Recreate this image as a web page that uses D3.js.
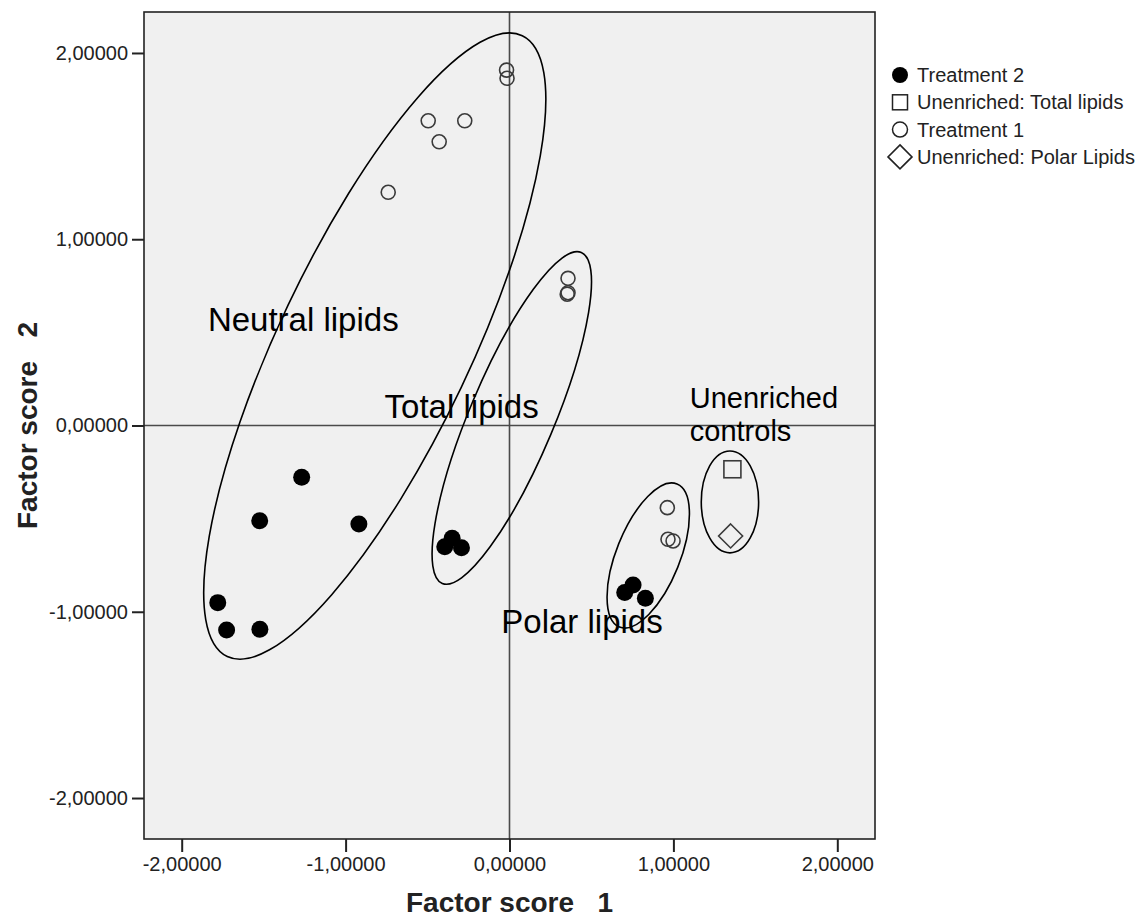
<!DOCTYPE html>
<html>
<head>
<meta charset="utf-8">
<script src="https://cdn.jsdelivr.net/npm/d3@7"></script>
<style>
  body { margin: 0; background: #fff; }
  text { font-family: "Liberation Sans", Arial, sans-serif; }
</style>
</head>
<body>
<svg id="chart" width="1144" height="920"></svg>
<script>
// factor scores
var treatment2 = [
  [-1.268, -0.278], [-1.524, -0.511], [-0.919, -0.529], [-1.780, -0.951],
  [-1.726, -1.098], [-1.523, -1.094], [-0.350, -0.606], [-0.395, -0.651],
  [-0.293, -0.656], [0.754, -0.856], [0.703, -0.897], [0.829, -0.928]
];
var treatment1 = [
  [-0.018, 1.908], [-0.015, 1.864], [-0.496, 1.636], [-0.273, 1.636],
  [-0.429, 1.523], [-0.740, 1.252], [0.357, 0.790], [0.357, 0.713],
  [0.352, 0.705], [0.963, -0.441], [0.967, -0.611], [0.998, -0.620]
];
var unenrichedTotal = [[1.360, -0.235]];
var unenrichedPolar = [[1.349, -0.593]];

var ticks = [-2, -1, 0, 1, 2];
var legendNames = ["Treatment 2", "Unenriched: Total lipids", "Treatment 1", "Unenriched: Polar Lipids"];
var legendShapes = ["dot", "square", "circle", "diamond"];

// group ellipses: major axis end points (data units) and minor/major ratio
var groups = [
  { name: "Neutral lipids", x1: 0.078, y1: 2.093, x2: -1.722, y2: -1.240, ratio: 0.279, lx: -1.84, ly: 0.505, size: 33 },
  { name: "Total lipids", x1: 0.438, y1: 0.929, x2: -0.410, y2: -0.848, ratio: 0.236, lx: -0.762, ly: 0.04, size: 33 },
  { name: "Polar lipids", x1: 1.022, y1: -0.314, x2: 0.671, y2: -1.082, ratio: 0.412, lx: -0.05, ly: -1.113, size: 33 },
  { name: "Unenriched|controls", x1: 1.345, y1: -0.137, x2: 1.345, y2: -0.684, ratio: 0.563, lx: 1.10, ly: 0.095, size: 29 }
];

var svg = d3.select("#chart");
var plotL = 144, plotR = 875, plotT = 12, plotB = 839;

var x = d3.scaleLinear().domain([-2.23, 2.23]).range([plotL, plotR]);
var y = d3.scaleLinear().domain([-2.22, 2.22]).range([plotB, plotT]);

var loc = d3.formatLocale({ decimal: ",", thousands: ".", grouping: [3], currency: ["", ""], minus: "-" });
var fmt = loc.format(".5f");

// plot background
svg.append("rect")
  .attr("x", plotL).attr("y", plotT)
  .attr("width", plotR - plotL).attr("height", plotB - plotT)
  .attr("fill", "#f0f0f0");

// zero reference lines
svg.append("line")
  .attr("x1", x(0)).attr("x2", x(0)).attr("y1", plotT).attr("y2", plotB)
  .attr("stroke", "#4a4a4a").attr("stroke-width", 1.6);
svg.append("line")
  .attr("x1", plotL).attr("x2", plotR).attr("y1", y(0)).attr("y2", y(0))
  .attr("stroke", "#4a4a4a").attr("stroke-width", 1.6);

// axes
var xAxis = svg.append("g")
  .attr("transform", "translate(0," + plotB + ")")
  .call(d3.axisBottom(x).tickValues(ticks).tickSize(13).tickPadding(5).tickFormat(fmt));
var yAxis = svg.append("g")
  .attr("transform", "translate(" + plotL + ",0)")
  .call(d3.axisLeft(y).tickValues(ticks).tickSize(12).tickPadding(4).tickFormat(fmt));

[xAxis, yAxis].forEach(function(a) {
  a.select(".domain").remove();
  a.selectAll(".tick line").attr("stroke", "#222").attr("stroke-width", 2);
  a.selectAll(".tick text")
    .attr("fill", "#222")
    .style("font-size", "20px")
    .style("font-family", "'Liberation Sans', Arial, sans-serif");
});

// frame
svg.append("rect")
  .attr("x", plotL).attr("y", plotT)
  .attr("width", plotR - plotL).attr("height", plotB - plotT)
  .attr("fill", "none").attr("stroke", "#222").attr("stroke-width", 1.6);

// axis titles
svg.append("text")
  .attr("x", (plotL + plotR) / 2).attr("y", 912)
  .attr("text-anchor", "middle")
  .style("font-size", "28px").style("font-weight", "bold")
  .style("white-space", "pre")
  .attr("fill", "#222")
  .text("Factor score   1");

svg.append("text")
  .attr("transform", "translate(37," + ((plotT + plotB) / 2) + ") rotate(-90)")
  .attr("text-anchor", "middle")
  .style("font-size", "28px").style("font-weight", "bold")
  .style("white-space", "pre")
  .attr("fill", "#222")
  .text("Factor score   2");

// ellipses around groups
svg.append("g")
  .selectAll("ellipse")
  .data(groups)
  .enter()
  .append("ellipse")
    .each(function(d) {
      var px1 = x(d.x1), py1 = y(d.y1), px2 = x(d.x2), py2 = y(d.y2);
      var cx = (px1 + px2) / 2, cy = (py1 + py2) / 2;
      var a = Math.hypot(px1 - px2, py1 - py2) / 2;
      var ang = Math.atan2(py1 - py2, px1 - px2) * 180 / Math.PI;
      d3.select(this)
        .attr("cx", 0).attr("cy", 0)
        .attr("rx", a).attr("ry", a * d.ratio)
        .attr("transform", "translate(" + cx + "," + cy + ") rotate(" + ang + ")");
    })
    .attr("fill", "none")
    .attr("stroke", "#000")
    .attr("stroke-width", 1.6);

// group labels
svg.append("g")
  .selectAll("text")
  .data(groups)
  .enter()
  .append("text")
    .attr("x", function(d) { return x(d.lx); })
    .attr("y", function(d) { return y(d.ly); })
    .style("font-size", function(d) { return d.size + "px"; })
    .attr("fill", "#000")
    .each(function(d) {
      var parts = d.name.split("|");
      var t = d3.select(this);
      parts.forEach(function(p, i) {
        t.append("tspan")
          .attr("x", x(d.lx))
          .attr("dy", i === 0 ? 0 : 33)
          .text(p);
      });
    });

// points
var pts = svg.append("g");

pts.selectAll(".dot-t1")
  .data(treatment1)
  .enter()
  .append("circle")
    .attr("class", "dot-t1")
    .attr("cx", function(d) { return x(d[0]); })
    .attr("cy", function(d) { return y(d[1]); })
    .attr("r", 7)
    .attr("fill", "none")
    .attr("stroke", "#3a3a3a")
    .attr("stroke-width", 1.6);

pts.selectAll(".dot-t2")
  .data(treatment2)
  .enter()
  .append("circle")
    .attr("class", "dot-t2")
    .attr("cx", function(d) { return x(d[0]); })
    .attr("cy", function(d) { return y(d[1]); })
    .attr("r", 8.5)
    .attr("fill", "#000");

pts.selectAll(".dot-ut")
  .data(unenrichedTotal)
  .enter()
  .append("rect")
    .attr("class", "dot-ut")
    .attr("x", function(d) { return x(d[0]) - 8.5; })
    .attr("y", function(d) { return y(d[1]) - 8.5; })
    .attr("width", 17).attr("height", 17)
    .attr("fill", "none")
    .attr("stroke", "#3a3a3a")
    .attr("stroke-width", 1.6);

pts.selectAll(".dot-up")
  .data(unenrichedPolar)
  .enter()
  .append("path")
    .attr("class", "dot-up")
    .attr("d", "M0,-12L12,0L0,12L-12,0Z")
    .attr("transform", function(d) { return "translate(" + x(d[0]) + "," + y(d[1]) + ")"; })
    .attr("fill", "none")
    .attr("stroke", "#3a3a3a")
    .attr("stroke-width", 1.6);

// legend
var legendRowH = 27.3;
var legend = svg.append("g")
  .selectAll("g")
  .data(legendNames)
  .enter()
  .append("g")
    .attr("transform", function(d, i) {
      return "translate(900," + (75 + i * legendRowH) + ")";
    });

legend.each(function(d, i) {
  var g = d3.select(this);
  var s = legendShapes[i];
  if (s === "dot") {
    g.append("circle").attr("r", 8).attr("fill", "#000");
  } else if (s === "circle") {
    g.append("circle").attr("r", 7.5).attr("fill", "none").attr("stroke", "#222").attr("stroke-width", 1.5);
  } else if (s === "square") {
    g.append("rect").attr("x", -7.5).attr("y", -7.5).attr("width", 15).attr("height", 15)
      .attr("fill", "none").attr("stroke", "#222").attr("stroke-width", 1.5);
  } else {
    g.append("path").attr("d", "M0,-12L12,0L0,12L-12,0Z")
      .attr("fill", "none").attr("stroke", "#222").attr("stroke-width", 1.6);
  }
  g.append("text")
    .attr("x", 17).attr("y", 7)
    .style("font-size", "20px")
    .attr("fill", "#222")
    .text(d);
});
</script>
</body>
</html>
